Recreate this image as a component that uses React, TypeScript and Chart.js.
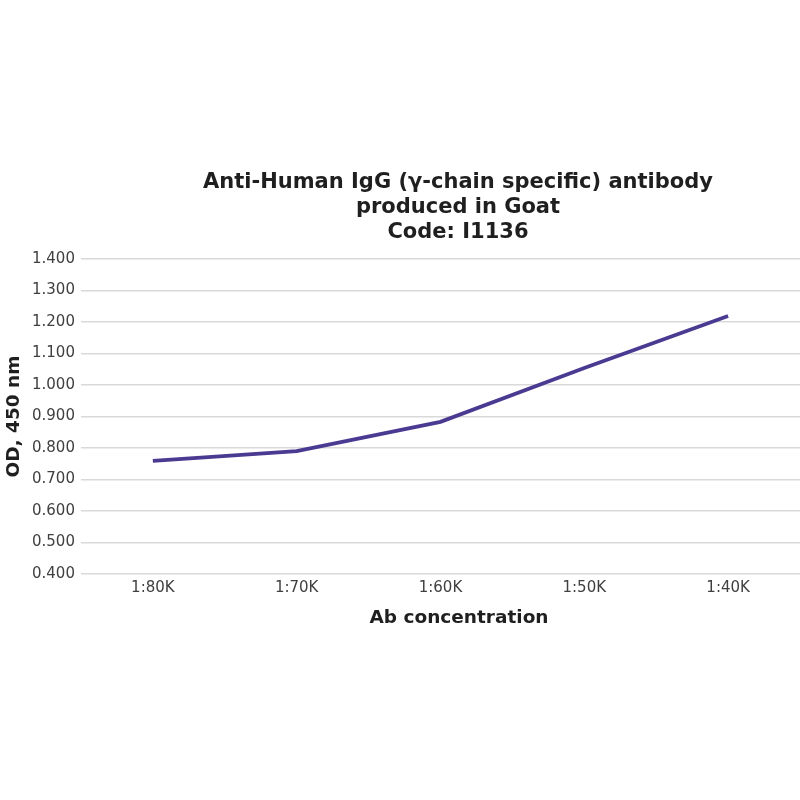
import { Chart, registerables } from "chart.js";
import { useEffect, useRef } from "react";

Chart.register(...registerables);

const dilutions = ["1:80K", "1:70K", "1:60K", "1:50K", "1:40K"];
const odValues = [0.759, 0.79, 0.883, 1.054, 1.219];
const titleLines = ["Anti-Human IgG (γ-chain specific) antibody", "produced in Goat", "Code: I1136"];
const xTitle = "Ab concentration";
const yTitle = "OD, 450 nm";

const FONT = "'DejaVu Sans', Verdana, sans-serif";

const titlesPlugin = {
  id: "titles",
  afterDraw(chart: Chart) {
    const { ctx, chartArea } = chart;
    ctx.save();
    ctx.fillStyle = "#1f1f1f";
    ctx.textAlign = "center";
    ctx.textBaseline = "middle";
    ctx.font = `bold 21px ${FONT}`;
    titleLines.forEach((line, i) => ctx.fillText(line, 458, 183 + i * 25));
    ctx.font = `bold 18.5px ${FONT}`;
    ctx.fillText(xTitle, 459, chartArea.bottom + 44);
    ctx.translate(14, (chartArea.top + chartArea.bottom) / 2);
    ctx.rotate(-Math.PI / 2);
    ctx.fillText(yTitle, 0, 0);
    ctx.restore();
  },
};

export default function App() {
  const canvasRef = useRef<HTMLCanvasElement>(null);

  useEffect(() => {
    const ctx = canvasRef.current?.getContext("2d");
    if (!ctx) return;

    const chart = new Chart(ctx, {
      type: "line",
      data: {
        labels: dilutions,
        datasets: [
          {
            data: odValues,
            borderColor: "#4b3a91",
            borderWidth: 3.8,
            pointRadius: 0,
            tension: 0,
          },
        ],
      },
      options: {
        responsive: false,
        animation: false,
        layout: { padding: { top: 259, left: 26, right: 0, bottom: 206 } },
        plugins: { legend: { display: false }, tooltip: { enabled: false } },
        scales: {
          x: {
            offset: true,
            grid: { display: false },
            border: { display: false },
            ticks: { color: "#404040", font: { family: FONT, size: 15 }, padding: -3 },
          },
          y: {
            min: 0.4,
            max: 1.4,
            grid: { color: "#d9d9d9", lineWidth: 1.5, drawTicks: false },
            border: { display: false },
            ticks: {
              stepSize: 0.1,
              color: "#404040",
              font: { family: FONT, size: 15 },
              padding: 6,
              callback: (v) => Number(v).toFixed(3),
            },
          },
        },
      },
      plugins: [titlesPlugin],
    });

    return () => chart.destroy();
  }, []);

  return (
    <div style={{ position: "fixed", left: 0, top: 0, width: 800, height: 800, background: "#fff" }}>
      <canvas ref={canvasRef} width={800} height={800} />
    </div>
  );
}
